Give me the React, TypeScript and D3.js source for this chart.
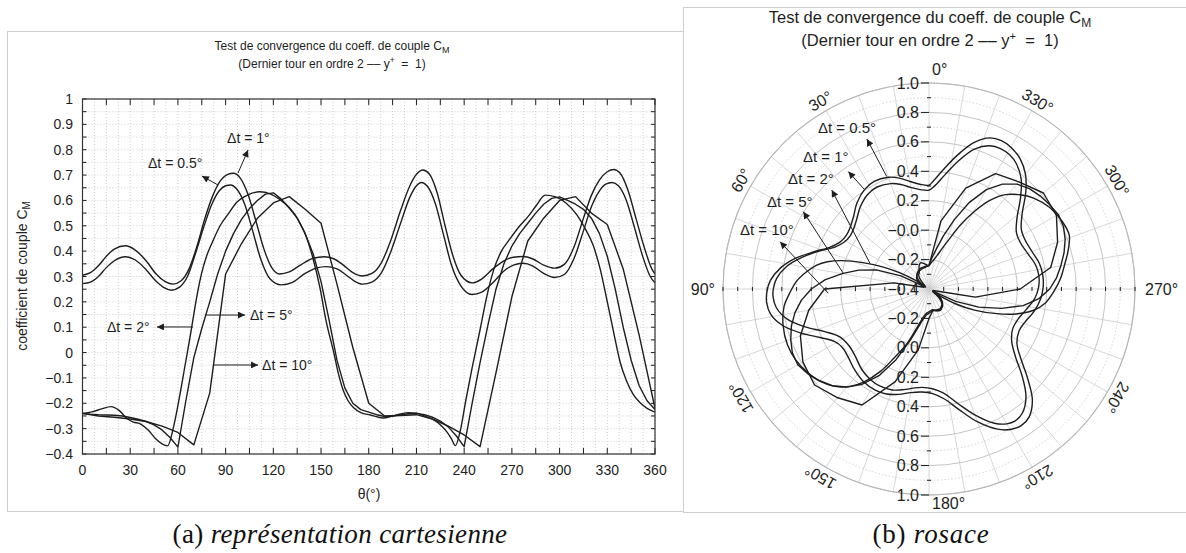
import React from "react";
import * as d3 from "d3";

type Pt = [number, number];

// ---------- data (θ in degrees, C_M value) ----------
const cm05: Pt[] = [[0,0.272],[5,0.278],[10,0.3],[15,0.335],[20,0.362],[27,0.378],[33,0.366],[40,0.327],[46,0.283],[51,0.257],[56,0.246],[61,0.258],[66,0.3],[71,0.39],[76,0.49],[81,0.58],[86,0.638],[90,0.658],[93,0.661],[97,0.645],[102,0.585],[107,0.48],[112,0.37],[118,0.29],[125,0.267],[132,0.277],[140,0.312],[147,0.333],[153,0.339],[160,0.33],[166,0.305],[171,0.282],[176,0.27],[182,0.278],[188,0.315],[194,0.4],[200,0.51],[206,0.615],[210,0.658],[213,0.671],[217,0.655],[222,0.585],[227,0.465],[232,0.345],[238,0.262],[245,0.229],[251,0.238],[258,0.275],[265,0.322],[271,0.345],[277,0.352],[283,0.342],[290,0.312],[297,0.296],[303,0.308],[309,0.37],[315,0.48],[320,0.575],[325,0.637],[329,0.664],[333,0.671],[337,0.658],[342,0.6],[347,0.495],[352,0.385],[357,0.3],[360,0.275]];

const cm1: Pt[] = [[0,0.305],[5,0.315],[10,0.342],[15,0.38],[20,0.408],[27,0.421],[33,0.405],[40,0.362],[46,0.312],[52,0.28],[57,0.27],[62,0.283],[67,0.33],[72,0.42],[77,0.53],[82,0.62],[87,0.68],[91,0.702],[95,0.707],[99,0.69],[104,0.625],[109,0.52],[114,0.41],[119,0.335],[124,0.31],[130,0.318],[137,0.345],[145,0.372],[152,0.378],[158,0.37],[164,0.345],[170,0.315],[176,0.302],[182,0.312],[188,0.355],[194,0.445],[200,0.56],[206,0.66],[210,0.703],[214,0.72],[218,0.705],[223,0.63],[228,0.5],[233,0.38],[238,0.305],[245,0.275],[251,0.29],[258,0.33],[265,0.362],[271,0.376],[277,0.379],[283,0.37],[290,0.345],[297,0.333],[303,0.348],[309,0.415],[315,0.53],[320,0.62],[325,0.68],[330,0.713],[334,0.722],[338,0.708],[343,0.64],[348,0.53],[353,0.42],[358,0.33],[360,0.31]];

const cm2: Pt[] = [[0,-0.24],[6,-0.234],[12,-0.222],[18,-0.213],[23,-0.228],[28,-0.26],[32,-0.274],[36,-0.28],[41,-0.303],[46,-0.34],[50,-0.36],[53.5,-0.368],[57,-0.3],[61,-0.175],[64.5,-0.05],[68,0.075],[72,0.225],[75,0.315],[78,0.38],[82,0.44],[86.5,0.5],[92,0.55],[97,0.593],[104,0.622],[111.5,0.634],[118,0.626],[124,0.604],[130,0.572],[136,0.52],[141,0.452],[145,0.37],[149.5,0.25],[153,0.13],[158,0.0],[161,-0.085],[164,-0.15],[167,-0.19],[170.5,-0.218],[175,-0.237],[181,-0.246],[189,-0.258],[195,-0.25],[200,-0.242],[205,-0.237],[210,-0.239],[215,-0.25],[221,-0.266],[225,-0.285],[229,-0.312],[232,-0.34],[234.5,-0.367],[237.5,-0.31],[241,-0.19],[245,-0.06],[250,0.09],[254,0.215],[258.5,0.325],[263,0.395],[269,0.45],[275,0.5],[280,0.535],[285,0.577],[291,0.621],[297,0.615],[304,0.59],[311,0.542],[316,0.49],[321,0.425],[325.5,0.33],[330,0.2],[334,0.08],[338,-0.036],[342,-0.11],[346.5,-0.167],[351,-0.2],[355,-0.22],[360,-0.235]];

const cm5: Pt[] = [[0,-0.24],[5,-0.243],[10,-0.245],[15,-0.246],[20,-0.247],[25,-0.25],[30,-0.256],[35,-0.263],[40,-0.272],[45,-0.285],[50,-0.305],[55,-0.335],[60,-0.373],[65,-0.19],[70,-0.02],[75,0.095],[80,0.2],[85,0.31],[90,0.4],[95,0.47],[100,0.525],[105,0.568],[110,0.6],[115,0.625],[120,0.63],[125,0.605],[130,0.57],[135,0.53],[140,0.47],[145,0.39],[150,0.28],[155,0.13],[160,-0.03],[165,-0.14],[170,-0.2],[175,-0.225],[180,-0.235],[185,-0.245],[190,-0.252],[195,-0.25],[200,-0.245],[205,-0.241],[210,-0.24],[215,-0.245],[220,-0.255],[225,-0.27],[230,-0.293],[235,-0.328],[240,-0.371],[245,-0.2],[250,-0.04],[255,0.11],[260,0.25],[265,0.35],[270,0.42],[275,0.47],[280,0.51],[285,0.55],[290,0.585],[295,0.608],[300,0.614],[305,0.6],[310,0.585],[315,0.565],[320,0.53],[325,0.47],[330,0.38],[335,0.25],[340,0.1],[345,-0.03],[350,-0.13],[355,-0.19],[360,-0.225]];

const cm10: Pt[] = [[0,-0.24],[10,-0.25],[20,-0.255],[30,-0.262],[40,-0.272],[50,-0.29],[60,-0.315],[70,-0.364],[80,-0.16],[90,0.31],[100,0.43],[110,0.53],[120,0.59],[130,0.615],[140,0.565],[150,0.51],[160,0.27],[170,0.02],[180,-0.2],[190,-0.25],[200,-0.248],[210,-0.245],[220,-0.262],[230,-0.29],[240,-0.325],[250,-0.371],[260,-0.08],[270,0.22],[280,0.44],[290,0.53],[300,0.6],[310,0.615],[320,0.55],[330,0.505],[340,0.33],[350,0.07],[360,-0.22]];

const seriesNames = ["Δt = 0.5°", "Δt = 1°", "Δt = 2°", "Δt = 5°", "Δt = 10°"];

// axis ticks
const xTicks = [0, 30, 60, 90, 120, 150, 180, 210, 240, 270, 300, 330, 360];
const yTicks = [1, 0.9, 0.8, 0.7, 0.6, 0.5, 0.4, 0.3, 0.2, 0.1, 0, -0.1, -0.2, -0.3, -0.4];
const yTickLabels = ["1", "0.9", "0.8", "0.7", "0.6", "0.5", "0.4", "0.3", "0.2", "0.1", "0", "−0.1", "−0.2", "−0.3", "−0.4"];

const rUpperTicks = [1.0, 0.8, 0.6, 0.4, 0.2, 0.0, -0.2];
const rUpperLabels = ["1.0", "0.8", "0.6", "0.4", "0.2", "−0.0", "−0.2"];
const rCenterLabel = "−0.4";
const rLowerTicks = [-0.2, 0.0, 0.2, 0.4, 0.6, 0.8, 1.0];
const rLowerLabels = ["−0.2", "0.0", "0.2", "0.4", "0.6", "0.8", "1.0"];
const angleTicks = [0, 30, 60, 90, 120, 150, 180, 210, 240, 270, 300, 330];

// annotations (data coordinates): text anchor, arrow tail (on curve), arrow head
const cartNotes = [
  { label: seriesNames[1], text: [90.9, 0.846], tail: [97.8, 0.708], head: [104.1, 0.799] },
  { label: seriesNames[0], text: [41.2, 0.748], tail: [85.2, 0.661], head: [75.1, 0.696] },
  { label: seriesNames[2], text: [15.4, 0.101], tail: [69.5, 0.101], head: [46.8, 0.101] },
  { label: seriesNames[3], text: [105.3, 0.148], tail: [77.0, 0.148], head: [102.2, 0.148] },
  { label: seriesNames[4], text: [112.9, -0.049], tail: [82.1, -0.049], head: [110.4, -0.049] },
];
const polarNotes = [
  { label: seriesNames[0], text: [34.6, 0.929], tail: [20.6, 0.416], head: [22.5, 0.703] },
  { label: seriesNames[1], text: [43.7, 0.84], tail: [32.9, 0.401], head: [34.5, 0.568] },
  { label: seriesNames[2], text: [52.0, 0.815], tail: [66.5, 0.037], head: [44.5, 0.543] },
  { label: seriesNames[3], text: [61.8, 0.85], tail: [79.6, 0.192], head: [58.4, 0.603] },
  { label: seriesNames[4], text: [72.7, 0.946], tail: [92.4, 0.285], head: [72.4, 0.662] },
];

const FONT = "'Liberation Sans', Arial, Helvetica, sans-serif";
const SERIF = "'Liberation Serif', 'DejaVu Serif', serif";
const INK = "#1e1e1e";
const NB = "\u00a0";

export default function App() {
  const X = d3.scaleLinear().domain([0, 360]).range([82.5, 655]);
  const Y = d3.scaleLinear().domain([-0.4, 1]).range([454, 99]);

  const cx = 929, cy = 289;
  const RS = d3.scaleLinear().domain([-0.4, 1]).range([0, 206]);
  const Rmax = RS(1);
  const polar = (t: number, v: number): [number, number] => {
    const a = (t * Math.PI) / 180;
    const r = RS(v);
    return [cx - r * Math.sin(a), cy - r * Math.cos(a)];
  };

  const series = [
    { data: cm05, curve: d3.curveMonotoneX, pcurve: d3.curveCatmullRomClosed.alpha(0.5) },
    { data: cm1, curve: d3.curveMonotoneX, pcurve: d3.curveCatmullRomClosed.alpha(0.5) },
    { data: cm2, curve: d3.curveMonotoneX, pcurve: d3.curveCatmullRomClosed.alpha(0.5) },
    { data: cm5, curve: d3.curveLinear, pcurve: d3.curveLinearClosed },
    { data: cm10, curve: d3.curveLinear, pcurve: d3.curveLinearClosed },
  ];

  const cartPath = (s: any) =>
    d3.line<Pt>().x((d) => X(d[0])).y((d) => Y(d[1])).curve(s.curve)(s.data) || "";
  const polarPath = (s: any) =>
    d3
      .lineRadial<Pt>()
      .angle((d) => (-d[0] * Math.PI) / 180)
      .radius((d) => RS(d[1]))
      .curve(s.pcurve)(s.data.filter((d: Pt) => d[0] < 360)) || "";

  const xGrid = d3.range(0, 360.01, 7.5);
  const yGrid = d3.range(-0.4, 1.0001, 0.05);
  const xMinor = d3.range(0, 360.01, 15);

  const circles = d3.range(-3, 11).map((k) => k / 10);
  const spokes = d3.range(0, 360, 10);
  const rTickAll = d3.range(-3, 11).map((k) => k / 10);

  return (
    <svg
      width={1186}
      height={553}
      style={{ position: "absolute", left: 0, top: 0, background: "#fff" }}
      fontFamily={FONT}
    >
      <defs>
        <marker id="ah" viewBox="0 0 10 10" refX="10" refY="5" markerWidth="9" markerHeight="7" markerUnits="userSpaceOnUse" orient="auto">
          <path d="M0,0 L10,5 L0,10 z" fill={INK} />
        </marker>
        <clipPath id="plotclip">
          <rect x={82.5} y={99} width={572.5} height={355} />
        </clipPath>
      </defs>
      <rect x={0} y={0} width={1186} height={553} fill="#fff" />

      {/* panel frames */}
      <rect x={7.5} y={31.5} width={676} height={480} fill="none" stroke="#cfcfcf" />
      <rect x={683.5} y={7.5} width={520} height={505} fill="none" stroke="#cfcfcf" />

      {/* ================= LEFT: cartesian ================= */}
      <g>
        <text x={332} y={50} textAnchor="middle" fontSize={12} fill={INK}>
          Test de convergence du coeff. de couple C<tspan fontSize={9} dy={3}>M</tspan>
        </text>
        <text x={332} y={68} textAnchor="middle" fontSize={12} fill={INK}>
          {"(Dernier tour en ordre 2 –– y"}<tspan fontSize={8.5} dy={-5}>+</tspan><tspan dy={5}>{`${NB}${NB}=${NB}${NB}1)`}</tspan>
        </text>

        {/* grid */}
        {xGrid.map((t) => (
          <line key={"gx" + t} x1={X(t)} x2={X(t)} y1={99} y2={454} stroke="#c4c4c4" strokeWidth={0.8} strokeDasharray="1 2" />
        ))}
        {yGrid.map((v, i) => (
          <line key={"gy" + i} x1={82.5} x2={655} y1={Y(v)} y2={Y(v)} stroke="#c4c4c4" strokeWidth={0.8} strokeDasharray="1 2" />
        ))}

        {/* ticks */}
        {xMinor.map((t) => (
          <g key={"tx" + t}>
            <line x1={X(t)} x2={X(t)} y1={454} y2={448} stroke={INK} strokeWidth={1} />
            <line x1={X(t)} x2={X(t)} y1={99} y2={105} stroke={INK} strokeWidth={1} />
          </g>
        ))}
        {yGrid.map((v, i) => (
          <g key={"ty" + i}>
            <line x1={82.5} x2={86.5} y1={Y(v)} y2={Y(v)} stroke={INK} strokeWidth={1} />
            <line x1={655} x2={651} y1={Y(v)} y2={Y(v)} stroke={INK} strokeWidth={1} />
          </g>
        ))}

        {/* curves */}
        <g clipPath="url(#plotclip)">
          {series.map((s, i) => (
            <path key={"c" + i} d={cartPath(s)} fill="none" stroke={INK} strokeWidth={1.4} strokeLinejoin="round" />
          ))}
        </g>

        <rect x={82.5} y={99} width={572.5} height={355} fill="none" stroke="#333" strokeWidth={1.2} />

        {/* tick labels */}
        {xTicks.map((t) => (
          <text key={"xl" + t} x={X(t)} y={475} textAnchor="middle" fontSize={14} fill={INK}>
            {String(t)}
          </text>
        ))}
        {yTicks.map((v, i) => (
          <text key={"yl" + i} x={73} y={Y(v) + 5} textAnchor="end" fontSize={14} fill={INK}>
            {yTickLabels[i]}
          </text>
        ))}
        <text x={369} y={499} textAnchor="middle" fontSize={14} fill={INK}>θ(°)</text>
        <text transform="translate(27,276) rotate(-90)" textAnchor="middle" fontSize={14} fill={INK}>
          coefficient de couple C<tspan fontSize={10} dy={3}>M</tspan>
        </text>

        {/* annotations */}
        {cartNotes.map((n, i) => (
          <g key={"cn" + i}>
            <line x1={X(n.tail[0])} y1={Y(n.tail[1])} x2={X(n.head[0])} y2={Y(n.head[1])} stroke={INK} strokeWidth={1} markerEnd="url(#ah)" />
            <text x={X(n.text[0])} y={Y(n.text[1]) + 5} fontSize={14} fill={INK}>{n.label}</text>
          </g>
        ))}
      </g>

      {/* ================= RIGHT: polar ================= */}
      <g>
        <text x={930} y={23} textAnchor="middle" fontSize={16.5} fill={INK}>
          Test de convergence du coeff. de couple C<tspan fontSize={12} dy={4}>M</tspan>
        </text>
        <text x={930} y={46} textAnchor="middle" fontSize={16.5} fill={INK}>
          {"(Dernier tour en ordre 2 –– y"}<tspan fontSize={11} dy={-6}>+</tspan><tspan dy={6}>{`${NB}${NB}=${NB}${NB}1)`}</tspan>
        </text>

        {/* grid */}
        {spokes.map((a) => {
          const p = polar(a, 1);
          return <line key={"sp" + a} x1={cx} y1={cy} x2={p[0]} y2={p[1]} stroke="#cdcdcd" strokeWidth={0.8} />;
        })}
        {circles.map((v, i) => {
          const even = Math.round(v * 10) % 2 === 0;
          return (
            <circle key={"ci" + i} cx={cx} cy={cy} r={RS(v)} fill="none" stroke={even ? "#c4c4c4" : "#cfcfcf"} strokeWidth={even ? 1 : 0.9} strokeDasharray={even ? undefined : "1.5 2"} />
          );
        })}
        <circle cx={cx} cy={cy} r={Rmax} fill="none" stroke="#b8b8b8" strokeWidth={1.1} />

        {/* axis ticks */}
        {rTickAll.map((v, i) => {
          const r = RS(v);
          const labeled = Math.round(v * 10) % 2 === 0;
          return (
            <g key={"rt" + i}>
              <line x1={labeled ? cx - 8 : cx - 2} x2={cx + (labeled ? 0 : 2)} y1={cy - r} y2={cy - r} stroke={INK} strokeWidth={1} />
              <line x1={labeled ? cx - 8 : cx - 2} x2={cx + (labeled ? 0 : 2)} y1={cy + r} y2={cy + r} stroke={INK} strokeWidth={1} />
              <line x1={cx - r} x2={cx - r} y1={cy - 2} y2={cy + 2} stroke={INK} strokeWidth={1} />
              <line x1={cx + r} x2={cx + r} y1={cy - 2} y2={cy + 2} stroke={INK} strokeWidth={1} />
            </g>
          );
        })}

        {/* curves */}
        <g transform={`translate(${cx},${cy})`}>
          {series.map((s, i) => (
            <path key={"p" + i} d={polarPath(s)} fill="none" stroke={INK} strokeWidth={1.4} strokeLinejoin="round" />
          ))}
        </g>

        {/* radial labels */}
        {rUpperTicks.map((v, i) => (
          <text key={"ru" + i} x={cx - 10} y={cy - RS(v) + 5.5} textAnchor="end" fontSize={16} fill={INK}>
            {rUpperLabels[i]}
          </text>
        ))}
        <text x={cx - 10} y={cy + 5.5} textAnchor="end" fontSize={16} fill={INK}>{rCenterLabel}</text>
        {rLowerTicks.map((v, i) => (
          <text key={"rl" + i} x={cx - 10} y={cy + RS(v) + 5.5} textAnchor="end" fontSize={16} fill={INK}>
            {rLowerLabels[i]}
          </text>
        ))}

        {/* angle labels */}
        {angleTicks.map((a) => {
          const lbl = `${a}°`;
          if (a === 0) return <text key="a0" x={cx + 3} y={cy - Rmax - 8} fontSize={16} fill={INK}>{lbl}</text>;
          if (a === 180) return <text key="a180" x={cx + 3} y={cy + Rmax + 14} fontSize={16} fill={INK}>{lbl}</text>;
          if (a === 90) return <text key="a90" x={cx - Rmax - 8} y={cy + 6} textAnchor="end" fontSize={16} fill={INK}>{lbl}</text>;
          if (a === 270) return <text key="a270" x={cx + Rmax + 10} y={cy + 6} fontSize={16} fill={INK}>{lbl}</text>;
          const rr = Rmax + 11;
          const rad = (a * Math.PI) / 180;
          const px = cx - rr * Math.sin(rad);
          const py = cy - rr * Math.cos(rad);
          return (
            <text key={"a" + a} x={px} y={py} textAnchor="middle" dominantBaseline="central" transform={`rotate(${-a},${px},${py})`} fontSize={16} fill={INK}>
              {lbl}
            </text>
          );
        })}

        {/* annotations */}
        {polarNotes.map((n, i) => {
          const t = polar(n.tail[0], n.tail[1]);
          const h = polar(n.head[0], n.head[1]);
          const tx = polar(n.text[0], n.text[1]);
          return (
            <g key={"pn" + i}>
              <line x1={t[0]} y1={t[1]} x2={h[0]} y2={h[1]} stroke={INK} strokeWidth={1} markerEnd="url(#ah)" />
              <text x={tx[0]} y={tx[1] + 5} fontSize={15} fill={INK}>{n.label}</text>
            </g>
          );
        })}
      </g>

      {/* captions */}
      <text x={340} y={543} textAnchor="middle" fontFamily={SERIF} fontSize={27} letterSpacing={0.35} fill="#111">
        {"(a) "}<tspan fontStyle="italic">représentation cartesienne</tspan>
      </text>
      <text x={931} y={543} textAnchor="middle" fontFamily={SERIF} fontSize={27} letterSpacing={0.8} fill="#111">
        {"(b) "}<tspan fontStyle="italic">rosace</tspan>
      </text>
    </svg>
  );
}
